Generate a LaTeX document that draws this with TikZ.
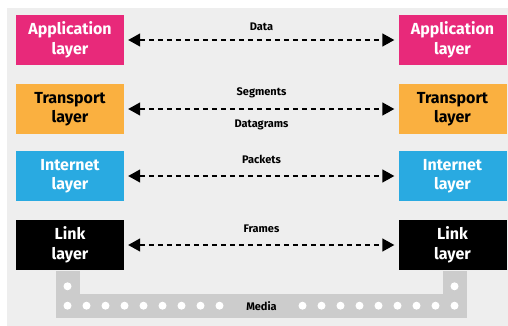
\documentclass[tikz,border=0pt]{standalone}
\usepackage{fontspec}
\setmainfont{Fira Sans}
\usetikzlibrary{arrows.meta}
\definecolor{bgpanel}{RGB}{238,238,238}
\definecolor{appcol}{RGB}{232,41,122}
\definecolor{tracol}{RGB}{250,176,64}
\definecolor{netcol}{RGB}{41,170,225}
\definecolor{medcol}{RGB}{204,204,204}
\tikzset{
  layerbox/.style={minimum width=108pt, minimum height=50.5pt, inner sep=0pt,
    align=center, font=\fontsize{16}{19.5}\selectfont\bfseries},
  pdu/.style={draw=black, line width=1.4pt, dash pattern=on 5pt off 4pt,
    {Triangle[length=12pt,width=13pt]}-{Triangle[length=12pt,width=13pt]},
    shorten <=4pt, shorten >=4pt},
  pdulabel/.style={inner sep=0pt, font=\fontsize{11}{13}\selectfont\bfseries},
  dot/.style={circle, fill=white, inner sep=0pt, minimum size=8pt}
}
\begin{document}
\begin{tikzpicture}[x=1pt, y=-1pt]
\useasboundingbox (0,0) rectangle (508,326);
% light panel behind everything
\fill[bgpanel] (7,8) rectangle (508,326);

% the physical medium joining both link layers
\coordinate (mL) at (67.5,271);
\coordinate (mR) at (454.5,271);
\draw[medcol, line width=24pt, line join=miter] (mL) -- (67.5,305.5) -- (454.5,305.5) -- (mR);

% layer boxes, left stack
\node[layerbox, fill=appcol, text=white] (appL) at (70,40) {Application\\layer};
\node[layerbox, fill=tracol, text=black] (traL) at (70,109) {Transport\\layer};
\node[layerbox, fill=netcol, text=white] (netL) at (70,176) {Internet\\layer};
\node[layerbox, fill=black, text=white] (linkL) at (70,245) {Link\\layer};

% layer boxes, right stack
\node[layerbox, fill=appcol, text=white] (appR) at (452.5,40) {Application\\layer};
\node[layerbox, fill=tracol, text=black] (traR) at (452.5,109) {Transport\\layer};
\node[layerbox, fill=netcol, text=white] (netR) at (452.5,176) {Internet\\layer};
\node[layerbox, fill=black, text=white] (linkR) at (452.5,245) {Link\\layer};

% peer-to-peer exchanges
\draw[pdu] (appL) -- (appR);
\draw[pdu] (traL) -- (traR);
\draw[pdu] (netL) -- (netR);
\draw[pdu] (linkL) -- (linkR);

% data unit names
\node[pdulabel] (lData) at (261.5,27) {Data};
\node[pdulabel] (lSeg) at (261.5,93) {Segments};
\node[pdulabel] (lDgram) at (261.5,125) {Datagrams};
\node[pdulabel] (lPkt) at (261.5,159) {Packets};
\node[pdulabel] (lFrm) at (261.5,229) {Frames};

% dots along the medium
\node[dot] (dL) at (67.5,286.3) {};
\node[dot] (dR) at (454.5,286.3) {};
\foreach \k in {0,...,8} {
  \node[dot] (dl\k) at ({67.5+19*\k},305.7) {};
  \node[dot] (dr\k) at ({454.5-19*\k},305.7) {};
}
\node[pdulabel] (lMedia) at (261.5,305.7) {Media};
\end{tikzpicture}
\end{document}
